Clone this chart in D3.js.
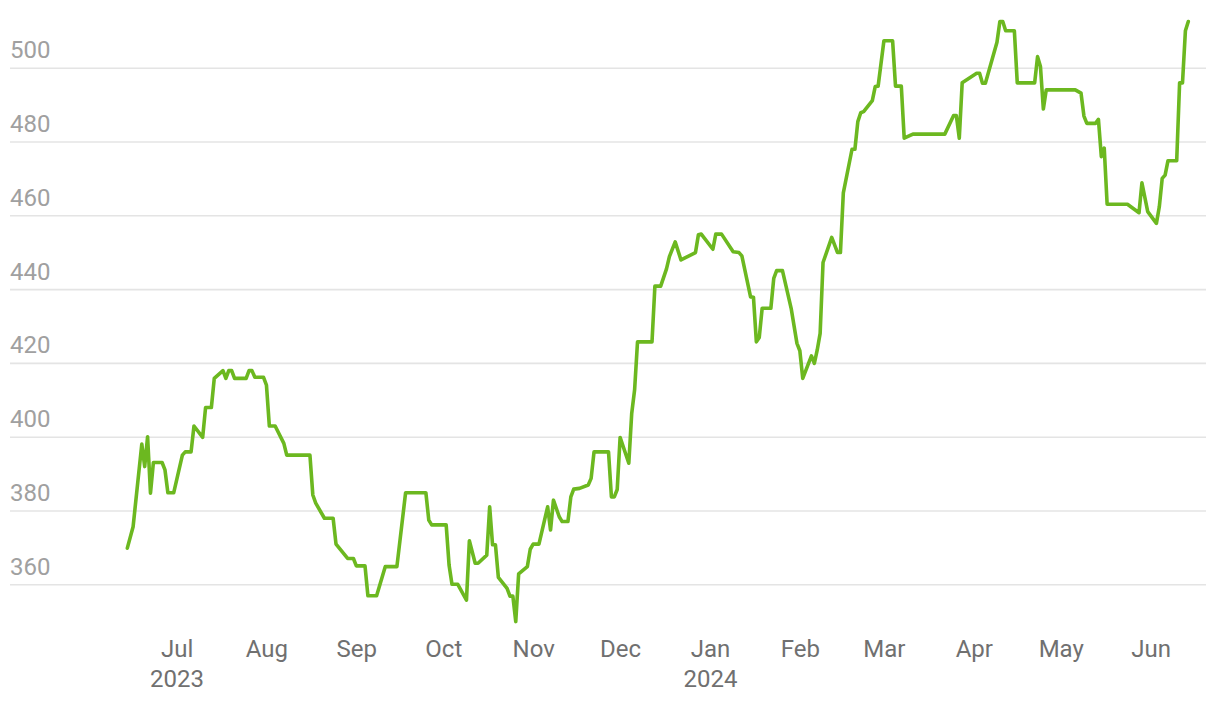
<!DOCTYPE html>
<html>
<head>
<meta charset="utf-8">
<script src="https://cdn.jsdelivr.net/npm/d3@7"></script>
<style>
  html, body { margin: 0; padding: 0; background: #fff; }
  svg { display: block; font-family: Roboto, "Noto Sans", sans-serif; }
</style>
</head>
<body>
<svg id="chart" width="1220" height="702"></svg>
<script>
const dates = [
  "2023-06-14","2023-06-16","2023-06-19","2023-06-20","2023-06-21","2023-06-22","2023-06-23","2023-06-26","2023-06-27","2023-06-28",
  "2023-06-30","2023-07-03","2023-07-04","2023-07-06","2023-07-07","2023-07-10","2023-07-11","2023-07-13","2023-07-14","2023-07-17",
  "2023-07-18","2023-07-19","2023-07-20","2023-07-21","2023-07-25","2023-07-26","2023-07-27","2023-07-28","2023-07-31","2023-08-01",
  "2023-08-02","2023-08-04","2023-08-07","2023-08-08","2023-08-16","2023-08-17","2023-08-18","2023-08-21","2023-08-24","2023-08-25",
  "2023-08-29","2023-08-31","2023-09-01","2023-09-04","2023-09-05","2023-09-08","2023-09-11","2023-09-15","2023-09-18","2023-09-25",
  "2023-09-26","2023-09-27","2023-10-02","2023-10-03","2023-10-04","2023-10-06","2023-10-09","2023-10-10","2023-10-12","2023-10-13",
  "2023-10-16","2023-10-17","2023-10-18","2023-10-19","2023-10-20","2023-10-23","2023-10-24","2023-10-25","2023-10-26","2023-10-27",
  "2023-10-30","2023-10-31","2023-11-01","2023-11-03","2023-11-06","2023-11-07","2023-11-08","2023-11-10","2023-11-11","2023-11-13",
  "2023-11-14","2023-11-15","2023-11-17","2023-11-20","2023-11-21","2023-11-22","2023-11-27","2023-11-28","2023-11-29","2023-11-30",
  "2023-12-01","2023-12-04","2023-12-05","2023-12-06","2023-12-07","2023-12-12","2023-12-13","2023-12-15","2023-12-17","2023-12-18",
  "2023-12-20","2023-12-22","2023-12-27","2023-12-28","2023-12-29","2024-01-02","2024-01-03","2024-01-05","2024-01-09","2024-01-11",
  "2024-01-12","2024-01-15","2024-01-16","2024-01-17","2024-01-18","2024-01-19","2024-01-22","2024-01-23","2024-01-24","2024-01-26",
  "2024-01-29","2024-01-31","2024-02-01","2024-02-02","2024-02-05","2024-02-06","2024-02-07","2024-02-08","2024-02-09","2024-02-12",
  "2024-02-14","2024-02-15","2024-02-16","2024-02-19","2024-02-20","2024-02-21","2024-02-22","2024-02-23","2024-02-26","2024-02-27",
  "2024-02-28","2024-03-01","2024-03-04","2024-03-05","2024-03-07","2024-03-08","2024-03-11","2024-03-22","2024-03-25","2024-03-26",
  "2024-03-27","2024-03-28","2024-04-02","2024-04-03","2024-04-04","2024-04-05","2024-04-09","2024-04-10","2024-04-11","2024-04-12",
  "2024-04-15","2024-04-16","2024-04-22","2024-04-23","2024-04-24","2024-04-25","2024-04-26","2024-05-06","2024-05-08","2024-05-09",
  "2024-05-10","2024-05-13","2024-05-14","2024-05-15","2024-05-16","2024-05-17","2024-05-24","2024-05-28","2024-05-29","2024-05-31",
  "2024-06-03","2024-06-04","2024-06-05","2024-06-06","2024-06-07","2024-06-10","2024-06-11","2024-06-12","2024-06-13","2024-06-14"
];
const values = [
  369.8,375.6,398.0,391.9,400.0,384.7,393.0,393.0,391.0,384.8,
  384.8,395.0,395.9,395.9,402.9,399.8,407.9,407.9,415.8,417.9,
  415.8,417.9,417.9,415.8,415.8,417.9,417.9,416.1,416.1,414.0,
  402.9,402.9,398.2,395.0,395.0,384.2,382.0,377.9,377.9,370.9,
  367.0,367.0,365.0,365.0,356.9,356.9,364.8,364.8,384.8,384.8,
  377.4,376.1,376.1,365.2,360.0,360.0,355.7,371.8,365.7,365.7,
  367.9,381.0,370.7,370.7,361.9,358.9,356.8,356.8,349.9,362.8,
  364.8,369.5,370.9,370.9,381.0,374.7,382.8,378.3,377.0,377.0,
  383.7,385.8,386.0,386.9,388.7,395.9,395.9,383.7,383.7,385.7,
  399.8,392.8,406.3,412.7,425.7,425.7,440.8,440.8,445.5,448.8,
  452.8,447.9,449.9,454.7,454.9,450.8,454.9,454.9,450.1,449.9,
  449.0,437.9,437.8,425.7,426.9,434.8,434.8,442.9,445.0,445.0,
  434.8,425.3,423.3,415.8,421.9,419.9,423.5,428.0,447.2,454.0,
  449.9,449.9,466.1,477.9,477.9,485.4,487.8,488.1,491.1,494.9,
  495.0,507.3,507.3,495.0,495.0,480.9,482.0,482.0,487.0,487.0,
  480.9,495.9,498.5,498.5,495.8,495.8,506.9,512.5,512.5,510.0,
  510.0,495.9,495.9,503.0,500.3,488.8,494.0,494.0,493.1,486.9,
  484.9,484.9,486.0,475.9,478.2,463.0,463.0,460.7,468.8,461.0,
  457.8,462.3,470.0,470.9,474.8,474.8,495.9,495.9,510.0,512.5
];
const yTicks = [360, 380, 400, 420, 440, 460, 480, 500];
const xTickDates = ["2023-07-01","2023-08-01","2023-09-01","2023-10-01","2023-11-01","2023-12-01",
                    "2024-01-01","2024-02-01","2024-03-01","2024-04-01","2024-05-01","2024-06-01"];
const xTickMonths = ["Jul","Aug","Sep","Oct","Nov","Dec","Jan","Feb","Mar","Apr","May","Jun"];
const xTickYears  = ["2023","","","","","","2024","","","","",""];

const parse = d3.timeParse("%Y-%m-%d");
const data = dates.map((d, i) => ({ date: parse(d), value: values[i] }));

const svg = d3.select("#chart");

const x = d3.scaleTime()
  .domain(d3.extent(data, d => d.date))
  .range([127.3, 1188.3]);
const y = d3.scaleLinear()
  .domain([360, 500])
  .range([584.3, 67.7]);

// Y axis with gridlines
const gy = svg.append("g")
  .attr("transform", "translate(10,0)")
  .call(d3.axisRight(y).tickValues(yTicks).tickSize(1196).tickFormat(d3.format("d")));
gy.select(".domain").remove();
gy.selectAll(".tick line").attr("stroke", "#e4e4e4").attr("stroke-width", 1.6);
gy.selectAll(".tick text")
  .attr("x", 0).attr("dy", null).attr("y", -10)
  .attr("text-anchor", "start")
  .attr("fill", "#a0a0a0")
  .style("font-size", "24px")
  .style("font-family", "Roboto, sans-serif");

// X axis
const tickDates = xTickDates.map(parse);
const gx = svg.append("g")
  .call(d3.axisBottom(x).tickValues(tickDates).tickSize(0).tickFormat(() => ""));
gx.select(".domain").remove();
gx.selectAll(".tick text").remove();
gx.selectAll(".tick").each(function(d, i) {
  const t = d3.select(this).append("text")
    .attr("text-anchor", "middle")
    .attr("fill", "#707070")
    .style("font-size", "24px")
    .style("font-family", "Roboto, sans-serif");
  t.append("tspan").attr("x", 0).attr("y", 656.7).text(xTickMonths[i]);
  if (xTickYears[i]) t.append("tspan").attr("x", 0).attr("y", 686.7).text(xTickYears[i]);
});

// Line
const line = d3.line().x(d => x(d.date)).y(d => y(d.value));
svg.append("path")
  .datum(data)
  .attr("fill", "none")
  .attr("stroke", "#6cb820")
  .attr("stroke-width", 3.6)
  .attr("stroke-linejoin", "round")
  .attr("stroke-linecap", "round")
  .attr("d", line);
</script>
</body>
</html>
